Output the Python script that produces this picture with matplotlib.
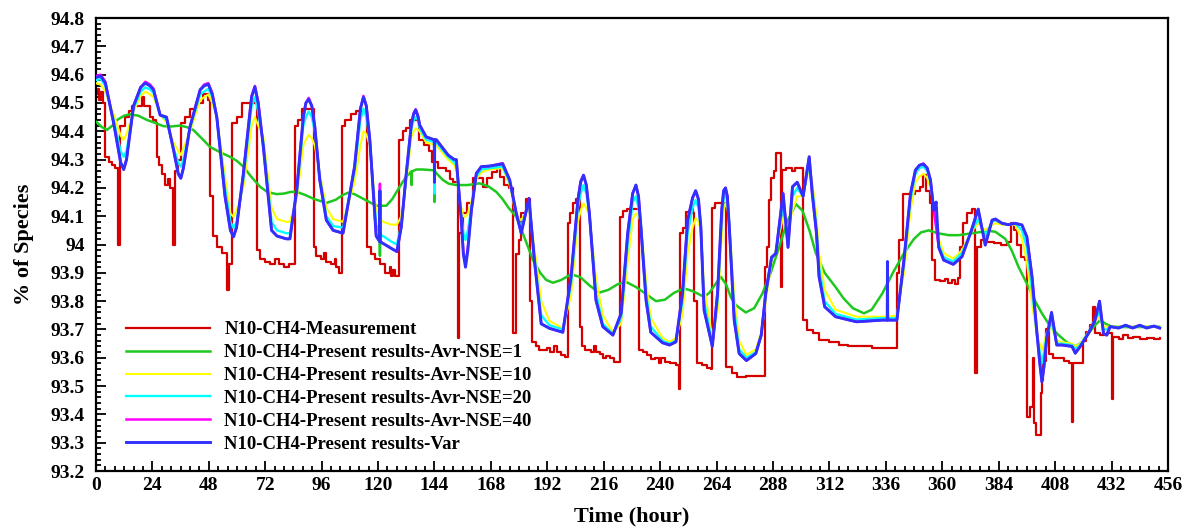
import numpy as np
import matplotlib
matplotlib.use('Agg')
import matplotlib.pyplot as plt
from matplotlib.ticker import MultipleLocator, FuncFormatter

plt.rcParams['font.family'] = ['Liberation Serif', 'DejaVu Serif']
plt.rcParams['font.weight'] = 'bold'

# measurement (step-wise)  [hour, % CH4]
meas_t = [0, 0.8, 1.5, 2.2, 3, 4, 5.5, 6.8, 8.2, 9.5, 10.4, 12.5, 14, 15.5, 19.5, 20.5, 23.2, 24.3,
          25.4, 25.8, 27, 28.3, 29.5, 30.5, 31.5, 32.8, 33.7, 35, 36.3, 38, 40, 42.5, 45.7, 47.5,
          48.5, 49.7, 51.5, 53.5, 55.8, 56.5, 57.7, 60, 62, 68.3, 69.8, 72, 74, 76, 78, 80, 82,
          84.7, 86, 87.5, 92.7, 93.5, 95.6, 97, 97.7, 100, 101.5, 102.2, 103.3, 104.6, 106, 108.5,
          110.5, 115.5, 117, 118.5, 121, 123, 125, 125.6, 126.3, 127, 129, 130.6, 132, 133.5,
          137.5, 139.5, 141.5, 143, 145.5, 149, 150.5, 152, 153.8, 154.4, 156.2, 157.8, 160.5,
          164.5, 166.5, 168.5, 170.5, 172, 173.5, 175.5, 177.5, 178.5, 179.8, 181, 182.8, 184.6,
          185.5, 187, 188.5, 192, 193, 195, 196, 198, 199.5, 200.6, 201.5, 202.8, 204.3, 206,
          206.8, 208.2, 210.5, 212, 212.8, 214.5, 215.5, 217, 218.5, 220.5, 222.9, 224.3, 226,
          230.8, 232.5, 234.6, 236, 238, 239.5, 240.5, 242, 244, 246.7, 247.9, 248.5, 249.7, 251,
          252.5, 253.8, 254.5, 255.5, 258, 260, 261.5, 262.2, 263.5, 267.8, 270.6, 272.7, 276.5,
          284.6, 285.5, 286.3, 287, 288.3, 289.3, 291.2, 291.7, 293.5, 296, 297.5, 300.9, 302.3,
          305, 307.6, 312, 316, 320, 330, 340.7, 341.8, 343.5, 348.6, 350.5, 351.8, 353.2, 355,
          355.8, 357, 359, 361, 362.5, 364, 365.5, 366.5, 367.7, 368.8, 370.5, 372.8, 374, 374.9,
          376.5, 379, 382, 385, 387.5, 389.4, 390.5, 392, 393.5, 395, 396.2, 397.4, 398.6, 399.2,
          400, 401.8, 402.5, 403, 404.2, 405.5, 407, 412, 414, 415.3, 415.8, 419.8, 421, 423,
          424.2, 425, 427, 430, 432, 432.4, 432.8, 435, 437, 439, 441, 444, 447, 450, 452.5]
meas_v = [94.53, 94.55, 94.51, 94.54, 94.50, 94.31, 94.29, 94.28, 94.27, 94.0, 94.42, 94.45, 94.47,
          94.49, 94.52, 94.49, 94.45, 94.44, 94.43, 94.31, 94.28, 94.25, 94.21, 94.23, 94.2, 94.0,
          94.26, 94.3, 94.43, 94.45, 94.48, 94.5, 94.53, 94.51, 94.17, 94.03, 93.99, 93.97, 93.84,
          93.93, 94.43, 94.45, 94.5, 93.98, 93.95, 93.94, 93.93, 93.95, 93.93, 93.92, 93.93,
          94.42, 94.44, 94.48, 93.99, 93.96, 93.95, 93.97, 93.94, 93.93, 93.95, 93.92, 93.90,
          94.42, 94.44, 94.46, 94.47, 93.99, 93.965, 93.95, 93.93, 93.9, 93.92, 93.89, 93.91,
          93.89, 94.37, 94.40, 94.41, 94.44, 94.37, 94.35, 94.33, 94.29, 94.27, 94.26, 94.23,
          94.22, 93.67, 94.04, 94.11, 94.145, 94.234, 94.204, 94.234, 94.257, 94.28, 94.24, 94.21,
          94.2, 93.686, 93.968, 94.016, 94.11, 94.16, 93.80, 93.656, 93.64, 93.627, 93.635, 93.62,
          93.64, 93.62, 93.61, 93.603, 94.075, 94.11, 94.145, 94.16, 93.71, 93.64, 93.627, 93.62,
          93.64, 93.62, 93.615, 93.6, 93.605, 93.598, 93.586, 94.098, 94.12, 94.127, 93.627, 93.62,
          93.61, 93.595, 93.6, 93.58, 93.6, 93.586, 93.58, 93.574, 93.49, 94.04, 94.06, 94.116,
          94.127, 94.11, 93.80, 93.58, 93.575, 93.565, 93.562, 94.13, 94.145, 93.568, 93.545,
          93.533, 93.535, 93.92, 93.99, 94.157, 94.234, 94.26, 94.322, 93.85, 94.263, 94.27, 94.26,
          94.27, 93.733, 93.698, 93.686, 93.662, 93.655, 93.645, 93.64, 93.636, 93.898, 94.016,
          94.18, 94.19, 94.204, 94.245, 94.19, 94.145, 93.945, 93.874, 93.87, 93.878, 93.865,
          93.875, 93.862, 93.88, 93.99, 94.075, 94.11, 94.127, 93.545, 93.99, 94.016, 94.01,
          94.005, 93.998, 94.01, 94.075, 94.05, 94.0, 93.957, 93.945, 93.39, 93.427, 93.6, 93.368,
          93.327, 93.474, 93.52, 93.59, 93.7, 93.615, 93.6, 93.59, 93.58, 93.373, 93.58, 93.66,
          93.69, 93.715, 93.78, 93.686, 93.68, 93.686, 93.67, 93.456, 93.674, 93.665, 93.68, 93.67,
          93.675, 93.665, 93.67, 93.665, 93.67]

# Avr-NSE=1
nse1_t = [0, 2.5, 4.7, 7, 9, 12, 14.6, 18, 21.7, 25, 28.7, 32, 35.8, 38.5, 41.5, 45, 48.5, 53, 57,
          60, 62.7, 66, 69.8, 73, 76.9, 80, 83, 85.4, 89, 93, 98.1, 102, 105, 107.3, 110, 114,
          119.3, 120.7, 120.8, 120.9, 123.5, 126, 129.2, 132, 134.2, 134.3, 134.4, 136.3, 139,
          142, 143.9, 144, 144.1, 145, 147.6, 150, 153.3, 158, 163.2, 167, 170.3, 173, 175.5,
          178.8, 182.5, 185.9, 189, 191.5, 194.4, 198, 202.1, 206, 210, 214.1, 218, 222, 225.5,
          229.7, 234, 238.2, 242, 246, 250.2, 254, 258.7, 261, 263.5, 265.8, 268, 270, 272.2,
          276.4, 280, 283.5, 287, 290.6, 294, 297.7, 300.5, 303.5, 306.2, 310, 314.6, 318, 322,
          326.7, 330, 334.5, 339, 343.7, 348, 351, 354.3, 358, 362.8, 367, 372.7, 377, 380,
          382.6, 386.8, 389.5, 392.5, 396.7, 399.5, 402.4, 406, 409.5, 413, 416.6, 419.5, 422.2,
          425, 427.2, 429.5, 432.1, 440, 452]
nse1_v = [94.434, 94.415, 94.405, 94.42, 94.44, 94.455, 94.46, 94.455, 94.44, 94.43, 94.418,
          94.417, 94.42, 94.415, 94.404, 94.375, 94.345, 94.325, 94.31, 94.295, 94.275, 94.24,
          94.204, 94.185, 94.178, 94.18, 94.186, 94.186, 94.175, 94.16, 94.147, 94.158, 94.175,
          94.183, 94.178, 94.16, 94.137, 94.137, 93.96, 94.137, 94.137, 94.16, 94.204, 94.24,
          94.258, 94.21, 94.258, 94.265, 94.265, 94.263, 94.262, 94.15, 94.26, 94.25, 94.228,
          94.215, 94.21, 94.21, 94.216, 94.205, 94.186, 94.16, 94.13, 94.098, 94.02, 93.945,
          93.9, 93.875, 93.865, 93.875, 93.895, 93.885, 93.855, 93.83, 93.84, 93.86, 93.868,
          93.85, 93.825, 93.80, 93.805, 93.83, 93.845, 93.835, 93.815, 93.83, 93.86, 93.886,
          93.86, 93.815, 93.786, 93.76, 93.775, 93.827, 93.9, 93.99, 94.08, 94.143, 94.12, 94.05,
          93.97, 93.9, 93.85, 93.81, 93.775, 93.757, 93.77, 93.827, 93.9, 93.969, 94.02, 94.043,
          94.05, 94.04, 94.033, 94.033, 94.04, 94.045, 94.048, 94.045, 94.02, 93.98, 93.92,
          93.85, 93.8, 93.757, 93.71, 93.68, 93.655, 93.64, 93.655, 93.686, 93.715, 93.733,
          93.72, 93.71, 93.708, 93.71]

# the other model curves share one time base
model_t = [0, 2, 4, 7.5, 10.5, 11.8, 13, 16,
           19, 21, 23, 24.5, 27.3, 30, 33, 35,
           36.1, 37.2, 40, 44.3, 46, 47.8, 49.5, 51.4,
           54.9, 57.2, 58.5, 59.8, 62.7, 66.2, 67.6, 69,
           71.2, 74.7, 77, 81, 82.5, 85.4, 88.2, 89.3,
           90.5, 91.8, 93.1, 95.2, 98, 100.9, 105.1, 110,
           112.5, 113.8, 115, 116.5, 118.2, 119.2, 120.7, 120.8,
           120.9, 122.1, 125.7, 128, 129.9, 132, 134.2, 135.2,
           136, 137, 137.7, 140.5, 143.9, 144, 144.1, 144.8,
           149.8, 152.4, 153.3, 155.4, 156.3, 157.2, 158.2, 159.7,
           161.8, 163.9, 167.4, 173, 176, 178.8, 180.9, 184.2,
           186.5, 189.4, 192.9, 198.6, 202.1, 205, 206.2, 207.4,
           208.6, 209.9, 212.7, 215.6, 219.9, 223.4, 226.2, 228.3,
           229.7, 230.8, 231.8, 234, 236, 241, 244, 246.7,
           249.5, 251.7, 253.8, 255.1, 256.3, 257.3, 258.7, 262.2,
           264.4, 266.2, 267, 267.8, 268.6, 269.4, 271.5, 273.6,
           276.7, 280.7, 283, 284.9, 287.4, 289.2, 292.3, 294.4,
           296.3, 298.3, 300.8, 303.4, 304.7, 306.5, 307.6, 310,
           314.6, 323.5, 334.5, 336.6, 336.7, 336.8, 340.7, 343.7,
           346.5, 348.6, 350.3, 352, 353.6, 355, 356.4, 357.4,
           358.5, 360.6, 364.7, 368.4, 372, 375.3, 378.3, 381.2,
           382.6, 385.4, 388.2, 391, 393.9, 396, 398.2, 400.3,
           401.5, 402.4, 403.3, 404.5, 406.5, 408.7, 410.9, 415.2,
           416.6, 418.7, 422.2, 425, 426.9, 428.6, 430, 431.4,
           435, 438, 441, 444, 447, 450, 452.5]
nse10_v = [94.57, 94.565, 94.54, 94.46, 94.385, 94.37, 94.39, 94.47,
           94.525, 94.54, 94.53, 94.52, 94.46, 94.43, 94.36, 94.33,
           94.316, 94.34, 94.40, 94.51, 94.52, 94.53, 94.5, 94.45,
           94.24, 94.11, 94.098, 94.12, 94.2, 94.42, 94.45, 94.42,
           94.38, 94.13, 94.09, 94.08, 94.08, 94.16, 94.35, 94.37,
           94.387, 94.375, 94.35, 94.25, 94.13, 94.09, 94.08, 94.22,
           94.35, 94.40, 94.39, 94.35, 94.2, 94.12, 94.1, 94.1,
           94.09, 94.08, 94.07, 94.07, 94.1, 94.22, 94.38, 94.4,
           94.41, 94.405, 94.40, 94.36, 94.352, 94.352, 94.352, 94.35,
           94.3, 94.28, 94.26, 94.13, 94.1, 94.098, 94.11, 94.15,
           94.23, 94.255, 94.265, 94.27, 94.21, 94.1, 94.086, 94.13,
           93.99, 93.8, 93.73, 93.705, 93.82, 94.08, 94.12, 94.145,
           94.13, 94.1, 93.88, 93.75, 93.69, 93.72, 93.94, 94.09,
           94.11, 94.1, 94.08, 93.87, 93.74, 93.67, 93.656, 93.67,
           93.75, 93.97, 94.06, 94.093, 94.08, 94.05, 93.85, 93.67,
           93.76, 94.03, 94.12, 94.146, 94.13, 94.08, 93.82, 93.66,
           93.61, 93.63, 93.69, 93.8, 93.94, 93.98, 94.098, 94.06,
           94.12, 94.17, 94.17, 94.275, 94.22, 94.1, 93.97, 93.84,
           93.77, 93.745, 93.745, 93.745, 93.745, 93.745, 93.75, 93.9,
           94.12, 94.22, 94.24, 94.25, 94.235, 94.2, 94.14, 94.07,
           94.02, 93.97, 93.95, 93.98, 94.04, 94.075, 94.05, 94.07,
           94.075, 94.07, 94.07, 94.07, 94.02, 93.94, 93.79, 93.68,
           93.65, 93.627, 93.65, 93.69, 93.71, 93.66, 93.655, 93.65,
           93.64, 93.65, 93.69, 93.735, 93.74, 93.71, 93.71, 93.71,
           93.71, 93.712, 93.71, 93.712, 93.71, 93.712, 93.71]
nse20_v = [94.58, 94.585, 94.56, 94.44, 94.33, 94.31, 94.33, 94.48,
           94.54, 94.555, 94.548, 94.535, 94.46, 94.44, 94.34, 94.29,
           94.275, 94.3, 94.41, 94.53, 94.54, 94.55, 94.52, 94.45,
           94.2, 94.08, 94.058, 94.08, 94.23, 94.49, 94.52, 94.47,
           94.36, 94.08, 94.05, 94.04, 94.04, 94.18, 94.42, 94.45,
           94.47, 94.45, 94.4, 94.24, 94.1, 94.065, 94.06, 94.26,
           94.44, 94.48, 94.45, 94.37, 94.17, 94.07, 94.04, 94.04,
           94.035, 94.03, 94.01, 94.0, 94.07, 94.24, 94.41, 94.44,
           94.45, 94.44, 94.41, 94.37, 94.362, 94.18, 94.362, 94.36,
           94.31, 94.29, 94.28, 94.1, 94.04, 94.016, 94.05, 94.13,
           94.24, 94.265, 94.27, 94.275, 94.22, 94.11, 94.06, 94.15,
           93.96, 93.75, 93.715, 93.70, 93.86, 94.13, 94.18, 94.21,
           94.18, 94.11, 93.83, 93.72, 93.685, 93.74, 94.0, 94.15,
           94.17, 94.13, 94.07, 93.83, 93.71, 93.66, 93.65, 93.66,
           93.8, 94.04, 94.13, 94.157, 94.13, 94.06, 93.8, 93.65,
           93.8, 94.09, 94.16, 94.18, 94.15, 94.07, 93.77, 93.63,
           93.6, 93.62, 93.68, 93.82, 93.95, 93.97, 94.14, 94.02,
           94.17, 94.2, 94.17, 94.29, 94.2, 94.06, 93.92, 93.8,
           93.755, 93.735, 93.74, 93.74, 93.74, 93.74, 93.74, 93.93,
           94.16, 94.25, 94.27, 94.275, 94.26, 94.22, 94.13, 94.08,
           94.0, 93.955, 93.94, 93.97, 94.04, 94.09, 94.03, 94.08,
           94.085, 94.075, 94.07, 94.075, 94.05, 93.99, 93.84, 93.68,
           93.62, 93.58, 93.62, 93.68, 93.73, 93.65, 93.65, 93.645,
           93.63, 93.645, 93.69, 93.735, 93.76, 93.7, 93.70, 93.71,
           93.708, 93.712, 93.708, 93.712, 93.708, 93.712, 93.708]
nse40_v = [94.595, 94.6, 94.575, 94.43, 94.29, 94.265, 94.3, 94.49,
           94.555, 94.575, 94.565, 94.55, 94.457, 94.45, 94.334, 94.25,
           94.234, 94.27, 94.416, 94.546, 94.565, 94.57, 94.535, 94.45,
           94.17, 94.05, 94.027, 94.06, 94.25, 94.525, 94.56, 94.505,
           94.345, 94.05, 94.03, 94.02, 94.02, 94.192, 94.45, 94.5,
           94.518, 94.49, 94.416, 94.228, 94.086, 94.05, 94.04, 94.275,
           94.48, 94.525, 94.49, 94.37, 94.157, 94.03, 94.01, 94.215,
           94.01, 94.004, 93.986, 93.975, 94.063, 94.251, 94.428, 94.465,
           94.478, 94.455, 94.422, 94.38, 94.37, 94.22, 94.37, 94.37,
           94.316, 94.3, 94.3, 94.09, 93.97, 93.93, 93.99, 94.12,
           94.251, 94.275, 94.277, 94.287, 94.228, 94.11, 94.04, 94.163,
           93.945, 93.72, 93.704, 93.69, 93.886, 94.157, 94.225, 94.245,
           94.21, 94.11, 93.803, 93.71, 93.68, 93.757, 94.04, 94.18,
           94.21, 94.17, 94.063, 93.803, 93.69, 93.653, 93.645, 93.656,
           93.827, 94.086, 94.165, 94.19, 94.16, 94.063, 93.768, 93.64,
           93.827, 94.122, 94.19, 94.2, 94.17, 94.063, 93.733, 93.615,
           93.59, 93.615, 93.68, 93.827, 93.955, 93.968, 94.18, 93.99,
           94.204, 94.22, 94.17, 94.31, 94.18, 94.04, 93.886, 93.78,
           93.745, 93.727, 93.733, 93.733, 93.733, 93.733, 93.733, 93.945,
           94.18, 94.263, 94.28, 94.286, 94.27, 94.228, 94.12, 94.06,
           93.99, 93.945, 93.93, 93.957, 94.04, 94.125, 93.998, 94.086,
           94.09, 94.075, 94.07, 94.075, 94.069, 94.027, 93.886, 93.686,
           93.58, 93.515, 93.57, 93.674, 93.76, 93.645, 93.645, 93.64,
           93.616, 93.64, 93.686, 93.733, 93.80, 93.686, 93.68, 93.71,
           93.705, 93.715, 93.705, 93.715, 93.705, 93.712, 93.705]
var_v = [94.59, 94.595, 94.57, 94.43, 94.29, 94.265, 94.3, 94.49,
         94.555, 94.57, 94.56, 94.546, 94.457, 94.45, 94.334, 94.25,
         94.234, 94.27, 94.416, 94.546, 94.56, 94.566, 94.53, 94.45,
         94.17, 94.05, 94.027, 94.06, 94.25, 94.52, 94.557, 94.5,
         94.345, 94.05, 94.03, 94.02, 94.02, 94.192, 94.45, 94.5,
         94.513, 94.49, 94.416, 94.228, 94.086, 94.05, 94.04, 94.275,
         94.48, 94.52, 94.49, 94.37, 94.157, 94.03, 94.01, 94.19,
         94.01, 94.004, 93.986, 93.975, 94.063, 94.251, 94.428, 94.462,
         94.475, 94.452, 94.422, 94.38, 94.37, 94.22, 94.37, 94.37,
         94.316, 94.3, 94.3, 94.086, 93.965, 93.92, 93.98, 94.12,
         94.251, 94.275, 94.277, 94.285, 94.228, 94.11, 94.04, 94.163,
         93.945, 93.72, 93.704, 93.69, 93.886, 94.157, 94.22, 94.245,
         94.21, 94.11, 93.803, 93.71, 93.68, 93.757, 94.04, 94.18,
         94.21, 94.17, 94.063, 93.803, 93.69, 93.653, 93.645, 93.656,
         93.827, 94.086, 94.165, 94.19, 94.16, 94.063, 93.768, 93.64,
         93.827, 94.122, 94.19, 94.2, 94.17, 94.063, 93.733, 93.615,
         93.59, 93.615, 93.68, 93.827, 93.955, 93.968, 94.18, 93.99,
         94.204, 94.22, 94.17, 94.31, 94.18, 94.04, 93.886, 93.78,
         93.745, 93.727, 93.733, 93.733, 93.94, 93.733, 93.733, 93.945,
         94.18, 94.263, 94.28, 94.284, 94.27, 94.228, 94.12, 94.15,
         93.99, 93.945, 93.93, 93.957, 94.04, 94.125, 93.998, 94.086,
         94.09, 94.075, 94.07, 94.075, 94.069, 94.027, 93.886, 93.686,
         93.58, 93.515, 93.57, 93.674, 93.76, 93.645, 93.645, 93.64,
         93.616, 93.64, 93.686, 93.733, 93.80, 93.686, 93.68, 93.71,
         93.705, 93.715, 93.705, 93.715, 93.705, 93.712, 93.705]

labels = ['N10-CH4-Measurement',
          'N10-CH4-Present results-Avr-NSE=1',
          'N10-CH4-Present results-Avr-NSE=10',
          'N10-CH4-Present results-Avr-NSE=20',
          'N10-CH4-Present results-Avr-NSE=40',
          'N10-CH4-Present results-Var']

fig = plt.figure(figsize=(11.92, 5.30), dpi=100)
ax = fig.add_axes([0.0805, 0.1113, 0.8993, 0.8547])

ax.plot(meas_t, meas_v, drawstyle='steps-post', color='#d40000', lw=1.6, label=labels[0], zorder=2)
ax.plot(nse1_t, nse1_v, color='#1ec81e', lw=1.8, label=labels[1], zorder=3)
ax.plot(model_t, nse10_v, color='#ffff00', lw=1.5, label=labels[2], zorder=4)
ax.plot(model_t, nse20_v, color='#00ffff', lw=1.7, label=labels[3], zorder=5)
ax.plot(model_t, nse40_v, color='#ff00ff', lw=1.8, label=labels[4], zorder=6)
ax.plot(model_t, var_v, color='#3030ff', lw=2.1, label=labels[5], zorder=7)

ax.set_xlim(0, 456)
ax.set_ylim(93.2, 94.8)
ax.xaxis.set_major_locator(MultipleLocator(24))
ax.xaxis.set_minor_locator(MultipleLocator(4))
ax.yaxis.set_major_locator(MultipleLocator(0.1))
ax.yaxis.set_minor_locator(MultipleLocator(0.02))
ax.yaxis.set_major_formatter(FuncFormatter(lambda v, p: '%g' % round(v, 2)))

ax.tick_params(which='both', direction='in', width=1.3, labelsize=14)
ax.tick_params(which='major', length=7)
ax.tick_params(which='minor', length=3.5)
ax.tick_params(axis='y', pad=8)
ax.tick_params(axis='x', pad=4)
for s in ax.spines.values():
    s.set_linewidth(1.6)

ax.set_xlabel('Time (hour)', fontsize=16, fontweight='bold', labelpad=9)
ax.set_ylabel('% of Species', fontsize=16, fontweight='bold', labelpad=12)

ax.legend(loc='lower left', bbox_to_anchor=(0.028, 0.04), frameon=False, fontsize=13.5,
          handlelength=4.5, handletextpad=0.75, labelspacing=0.31, borderpad=0, borderaxespad=0)

fig.savefig('out.png', dpi=100)
